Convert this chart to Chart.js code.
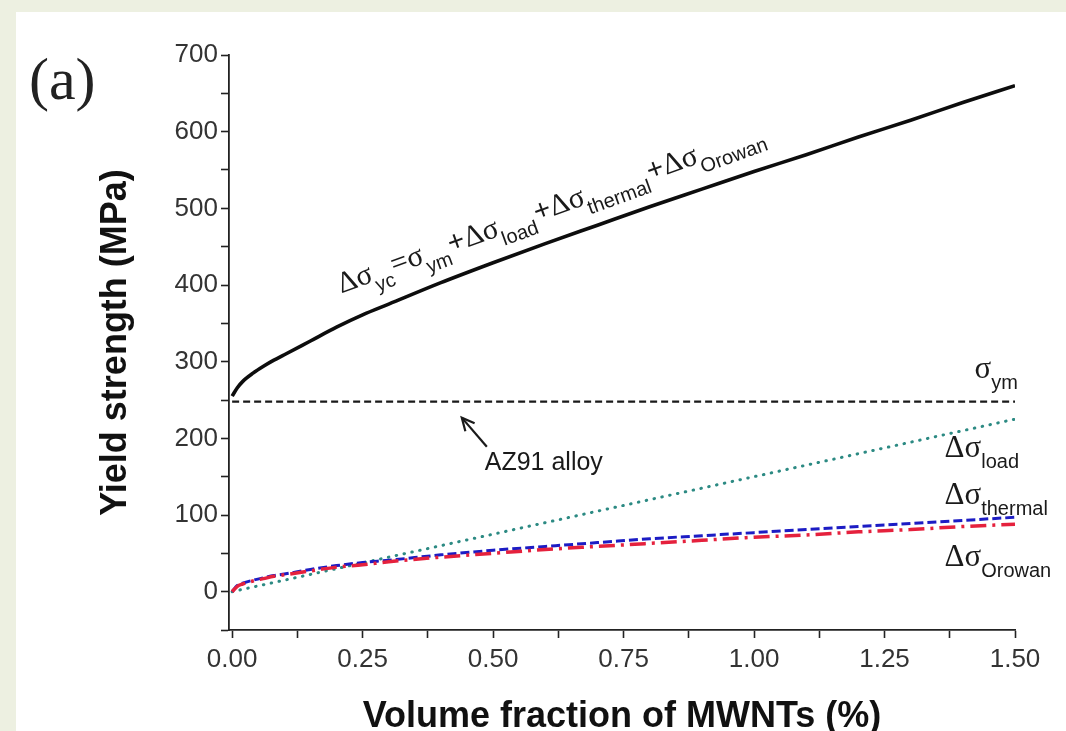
<!DOCTYPE html>
<html>
<head>
<meta charset="utf-8">
<script src="https://cdn.jsdelivr.net/npm/chart.js@4.4.1/dist/chart.umd.min.js"></script>
<style>
  html, body { margin: 0; padding: 0; background: #edf0e1; }
  #panel { position: absolute; left: 16px; top: 12px; width: 1050px; height: 719px; background: #ffffff; }
  #c { position: absolute; left: 0; top: 0; }
</style>
</head>
<body>
<div id="panel"></div>
<canvas id="c" width="1066" height="731"></canvas>
<script>
// ---- data ----
const volumeFraction = [0, 0.01, 0.02, 0.04, 0.06, 0.08, 0.10, 0.15, 0.20, 0.25, 0.30, 0.40, 0.50, 0.60, 0.70, 0.80, 0.90, 1.00, 1.10, 1.20, 1.30, 1.40, 1.50];
const compositeYield = [255, 266, 274, 285, 294, 302, 309, 327, 345, 361, 375, 403, 429, 454, 478, 502, 525, 548, 570, 593, 615, 638, 660];
const loadTransfer = [0, 1.5, 3, 6, 9, 12, 15, 22.5, 30, 37.5, 45, 60, 75, 90, 105, 120, 135, 150, 165, 180, 195, 210, 225];
const thermalMismatch = [0, 8, 11, 15, 18, 21, 23, 29, 34, 38, 41, 48, 54, 59, 64, 69, 73, 77, 81, 85, 89, 93, 97];
const orowanStrength = [0, 7, 10, 14, 17, 20, 22, 27, 32, 35, 39, 45, 50, 55, 59, 63, 67, 71, 74, 78, 81, 85, 88];
const matrixX = [0, 1.5];
const matrixYield = [248, 248];

const xTickValues = [0, 0.125, 0.25, 0.375, 0.5, 0.625, 0.75, 0.875, 1.0, 1.125, 1.25, 1.375, 1.5];
const xTickLabels = ['0.00', '', '0.25', '', '0.50', '', '0.75', '', '1.00', '', '1.25', '', '1.50'];
const yTickValues = [-50, 0, 50, 100, 150, 200, 250, 300, 350, 400, 450, 500, 550, 600, 650, 700];
const yTickLabels = ['', '0', '', '100', '', '200', '', '300', '', '400', '', '500', '', '600', '', '700'];

const toXY = (xs, ys) => xs.map((x, i) => ({ x: x, y: ys[i] }));

const SERIF = '"Liberation Serif", "DejaVu Serif", serif';
const SANS = '"Liberation Sans", Arial, sans-serif';

function drawRich(ctx, segs, x, y, angle, mainSize) {
  ctx.save();
  ctx.translate(x, y);
  ctx.rotate(angle || 0);
  ctx.textBaseline = 'alphabetic';
  ctx.textAlign = 'left';
  let cx = 0;
  segs.forEach(s => {
    ctx.font = s.sub ? ('20px ' + SANS) : ((s.bold ? 'bold ' : '') + (mainSize || 31) + 'px ' + SERIF);
    ctx.fillStyle = '#1a1a1a';
    ctx.fillText(s.t, cx, s.sub ? 11 : 0);
    cx += ctx.measureText(s.t).width + (s.sub ? 1 : 0);
  });
  ctx.restore();
}

const annotationPlugin = {
  id: 'annotations',
  afterDraw(chart) {
    const ctx = chart.ctx;
    const xs = chart.scales.x, ys = chart.scales.y;
    const P = (vx, vy) => [xs.getPixelForValue(vx), ys.getPixelForValue(vy)];

    // panel tag
    ctx.save();
    ctx.font = '60px ' + SERIF;
    ctx.fillStyle = '#222';
    ctx.textBaseline = 'alphabetic';
    ctx.fillText('(a)', 29, 99);
    ctx.restore();

    // formula along the composite curve
    let p = P(0.209, 389);
    drawRich(ctx, [
      { t: 'Δσ' }, { t: 'yc', sub: true }, { t: '=σ' }, { t: 'ym', sub: true },
      { t: '+', bold: true }, { t: 'Δσ' }, { t: 'load', sub: true }, { t: '+', bold: true }, { t: 'Δσ' }, { t: 'thermal', sub: true },
      { t: '+', bold: true }, { t: 'Δσ' }, { t: 'Orowan', sub: true }
    ], p[0], p[1], -20 * Math.PI / 180, 30);

    // right-side labels
    p = P(1.4226, 279);
    drawRich(ctx, [{ t: 'σ' }, { t: 'ym', sub: true }], p[0], p[1], 0);
    p = P(1.365, 176);
    drawRich(ctx, [{ t: 'Δσ' }, { t: 'load', sub: true }], p[0], p[1], 0);
    p = P(1.365, 114);
    drawRich(ctx, [{ t: 'Δσ' }, { t: 'thermal', sub: true }], p[0], p[1], 0);
    p = P(1.365, 33);
    drawRich(ctx, [{ t: 'Δσ' }, { t: 'Orowan', sub: true }], p[0], p[1], 0);

    // AZ91 alloy label and arrow
    p = P(0.484, 159);
    ctx.save();
    ctx.font = '25px ' + SANS;
    ctx.fillStyle = '#1a1a1a';
    ctx.fillText('AZ91 alloy', p[0], p[1]);
    const a0 = P(0.488, 189), a1 = P(0.440, 227);
    ctx.strokeStyle = '#1a1a1a';
    ctx.lineWidth = 2.2;
    ctx.beginPath();
    ctx.moveTo(a0[0], a0[1]);
    ctx.lineTo(a1[0], a1[1]);
    ctx.stroke();
    const ang = Math.atan2(a1[1] - a0[1], a1[0] - a0[0]);
    const L = 14, spread = 0.45;
    ctx.beginPath();
    ctx.moveTo(a1[0] - L * Math.cos(ang - spread), a1[1] - L * Math.sin(ang - spread));
    ctx.lineTo(a1[0], a1[1]);
    ctx.lineTo(a1[0] - L * Math.cos(ang + spread), a1[1] - L * Math.sin(ang + spread));
    ctx.stroke();
    ctx.restore();
  }
};

const tickFont = { family: SANS, size: 26 };
const titleFont = { family: SANS, size: 36, weight: 'bold', lineHeight: 0.9 };
const xTitleFont = { family: SANS, size: 36, weight: 'bold', lineHeight: 0.75 };

new Chart(document.getElementById('c'), {
  type: 'line',
  data: {
    datasets: [
      { label: 'Orowan', data: toXY(volumeFraction, orowanStrength), borderColor: '#e5213d', borderWidth: 3.5, borderDash: [16, 6, 3, 6], order: 1 },
      { label: 'thermal', data: toXY(volumeFraction, thermalMismatch), borderColor: '#1c1cc4', borderWidth: 3, borderDash: [9, 4], order: 2 },
      { label: 'load', data: toXY(volumeFraction, loadTransfer), borderColor: '#2c8a83', borderWidth: 3, borderDash: [0.5, 7.5], borderCapStyle: 'round', order: 3 },
      { label: 'ym', data: toXY(matrixX, matrixYield), borderColor: '#1a1a1a', borderWidth: 2.2, borderDash: [7, 4], order: 4 },
      { label: 'yc', data: toXY(volumeFraction, compositeYield), borderColor: '#0d0d0d', borderWidth: 3.6, order: 5 }
    ]
  },
  options: {
    responsive: false,
    animation: false,
    devicePixelRatio: 1,
    elements: { point: { radius: 0 }, line: { tension: 0.4, cubicInterpolationMode: 'monotone', fill: false } },
    layout: { padding: { left: 0, top: 55, right: 51, bottom: 0 } },
    plugins: { legend: { display: false }, tooltip: { enabled: false } },
    scales: {
      x: {
        type: 'linear',
        min: -0.006, max: 1.5,
        afterBuildTicks: s => { s.ticks = xTickValues.map(v => ({ value: v })); },
        afterFit: s => { s.height = 101; },
        ticks: {
          autoSkip: false, maxRotation: 0, padding: 6, color: '#333', font: tickFont,
          callback: (v, i) => xTickLabels[i]
        },
        grid: { drawOnChartArea: false, drawTicks: true, tickLength: 8, tickColor: '#222', tickWidth: 1.6 },
        border: { display: true, color: '#222', width: 1.8 },
        title: { display: true, text: 'Volume fraction of MWNTs (%)', color: '#111', font: xTitleFont, padding: { top: 0, bottom: 0 } }
      },
      y: {
        type: 'linear',
        min: -50, max: 700,
        afterBuildTicks: s => { s.ticks = yTickValues.map(v => ({ value: v })); },
        afterFit: s => { s.width = 229; },
        ticks: {
          autoSkip: false, padding: 3, color: '#333', font: tickFont,
          callback: (v, i) => yTickLabels[i]
        },
        grid: { drawOnChartArea: false, drawTicks: true, tickLength: 8, tickColor: '#222', tickWidth: 1.6 },
        border: { display: true, color: '#222', width: 1.8 },
        title: { display: true, text: 'Yield strength (MPa)', color: '#111', font: titleFont, padding: { top: 100, bottom: 0 } }
      }
    }
  },
  plugins: [annotationPlugin]
});
</script>
</body>
</html>
